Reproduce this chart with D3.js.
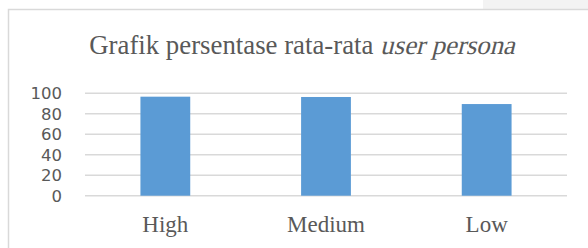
<!DOCTYPE html>
<html>
<head>
<meta charset="utf-8">
<script src="https://cdn.jsdelivr.net/npm/d3@7"></script>
<style>
  body { margin: 0; background: #fff; }
  svg { display: block; }
</style>
</head>
<body>
<div id="chart"></div>
<script>
var categories = ["High", "Medium", "Low"]
var values = [96.7, 96.4, 89.5]
var yTicks = [0, 20, 40, 60, 80, 100]

var width = 588
var height = 248
var margin = {top: 93.3, right: 21, bottom: 52.3, left: 85}

var svg = d3.select("#chart").append("svg")
    .attr("width", width)
    .attr("height", height)

// grey strip behind the chart at top right
svg.append("rect")
    .attr("x", 483).attr("y", 0)
    .attr("width", width - 483).attr("height", 9)
    .attr("fill", "#f3f3f3")

// chart frame
svg.append("rect")
    .attr("x", 8.5).attr("y", 9.5)
    .attr("width", 600).attr("height", 260)
    .attr("fill", "#fff")
    .attr("stroke", "#d9d9d9")
    .attr("stroke-width", 1.5)

var x = d3.scaleBand()
    .domain(categories)
    .range([margin.left, width - margin.right])
    .paddingInner(0.69)
    .paddingOuter(0.345)

var y = d3.scaleLinear()
    .domain([0, 100])
    .range([height - margin.bottom, margin.top])

// gridlines
svg.append("g")
    .selectAll("line")
    .data(yTicks)
    .join("line")
    .attr("x1", margin.left)
    .attr("x2", width - margin.right)
    .attr("y1", d => y(d))
    .attr("y2", d => y(d))
    .attr("stroke", "#d9d9d9")
    .attr("stroke-width", 1.5)

// y labels
svg.append("g")
    .selectAll("text")
    .data(yTicks)
    .join("text")
    .attr("x", 62)
    .attr("y", d => y(d))
    .attr("dy", "0.36em")
    .attr("text-anchor", "end")
    .attr("fill", "#595959")
    .style("font-family", "DejaVu Sans, sans-serif")
    .style("font-size", "16.5px")
    .text(d => d)

// bars
svg.append("g")
    .selectAll("rect")
    .data(values)
    .join("rect")
    .attr("x", (d, i) => x(categories[i]))
    .attr("width", x.bandwidth())
    .attr("y", d => y(d))
    .attr("height", d => y(0) - y(d))
    .attr("fill", "#5b9bd5")

// x labels
svg.append("g")
    .selectAll("text")
    .data(categories)
    .join("text")
    .attr("x", d => x(d) + x.bandwidth() / 2)
    .attr("y", 231.7)
    .attr("text-anchor", "middle")
    .attr("fill", "#595959")
    .style("font-family", "'Liberation Serif', 'Times New Roman', serif")
    .style("font-size", "23px")
    .text(d => d)

// title: regular part + slanted part (no serif italic face here, so skew it)
var titleY = 54.3
var titleCx = 302
var t1 = svg.append("text")
    .attr("y", titleY)
    .attr("fill", "#595959")
    .style("font-family", "'Liberation Serif', 'Times New Roman', serif")
    .style("font-size", "26.8px")
    .style("white-space", "pre")
    .text("Grafik persentase rata-rata ")
var t2 = svg.append("text")
    .attr("fill", "#595959")
    .style("font-family", "'Liberation Serif', 'Times New Roman', serif")
    .style("font-size", "26.8px")
    .text("user persona")

var w1 = t1.node().getComputedTextLength()
var w2 = t2.node().getComputedTextLength()
var x0 = titleCx - (w1 + w2) / 2
t1.attr("x", x0)
t2.attr("transform", "translate(" + (x0 + w1) + "," + titleY + ") skewX(-14)")
</script>
</body>
</html>
